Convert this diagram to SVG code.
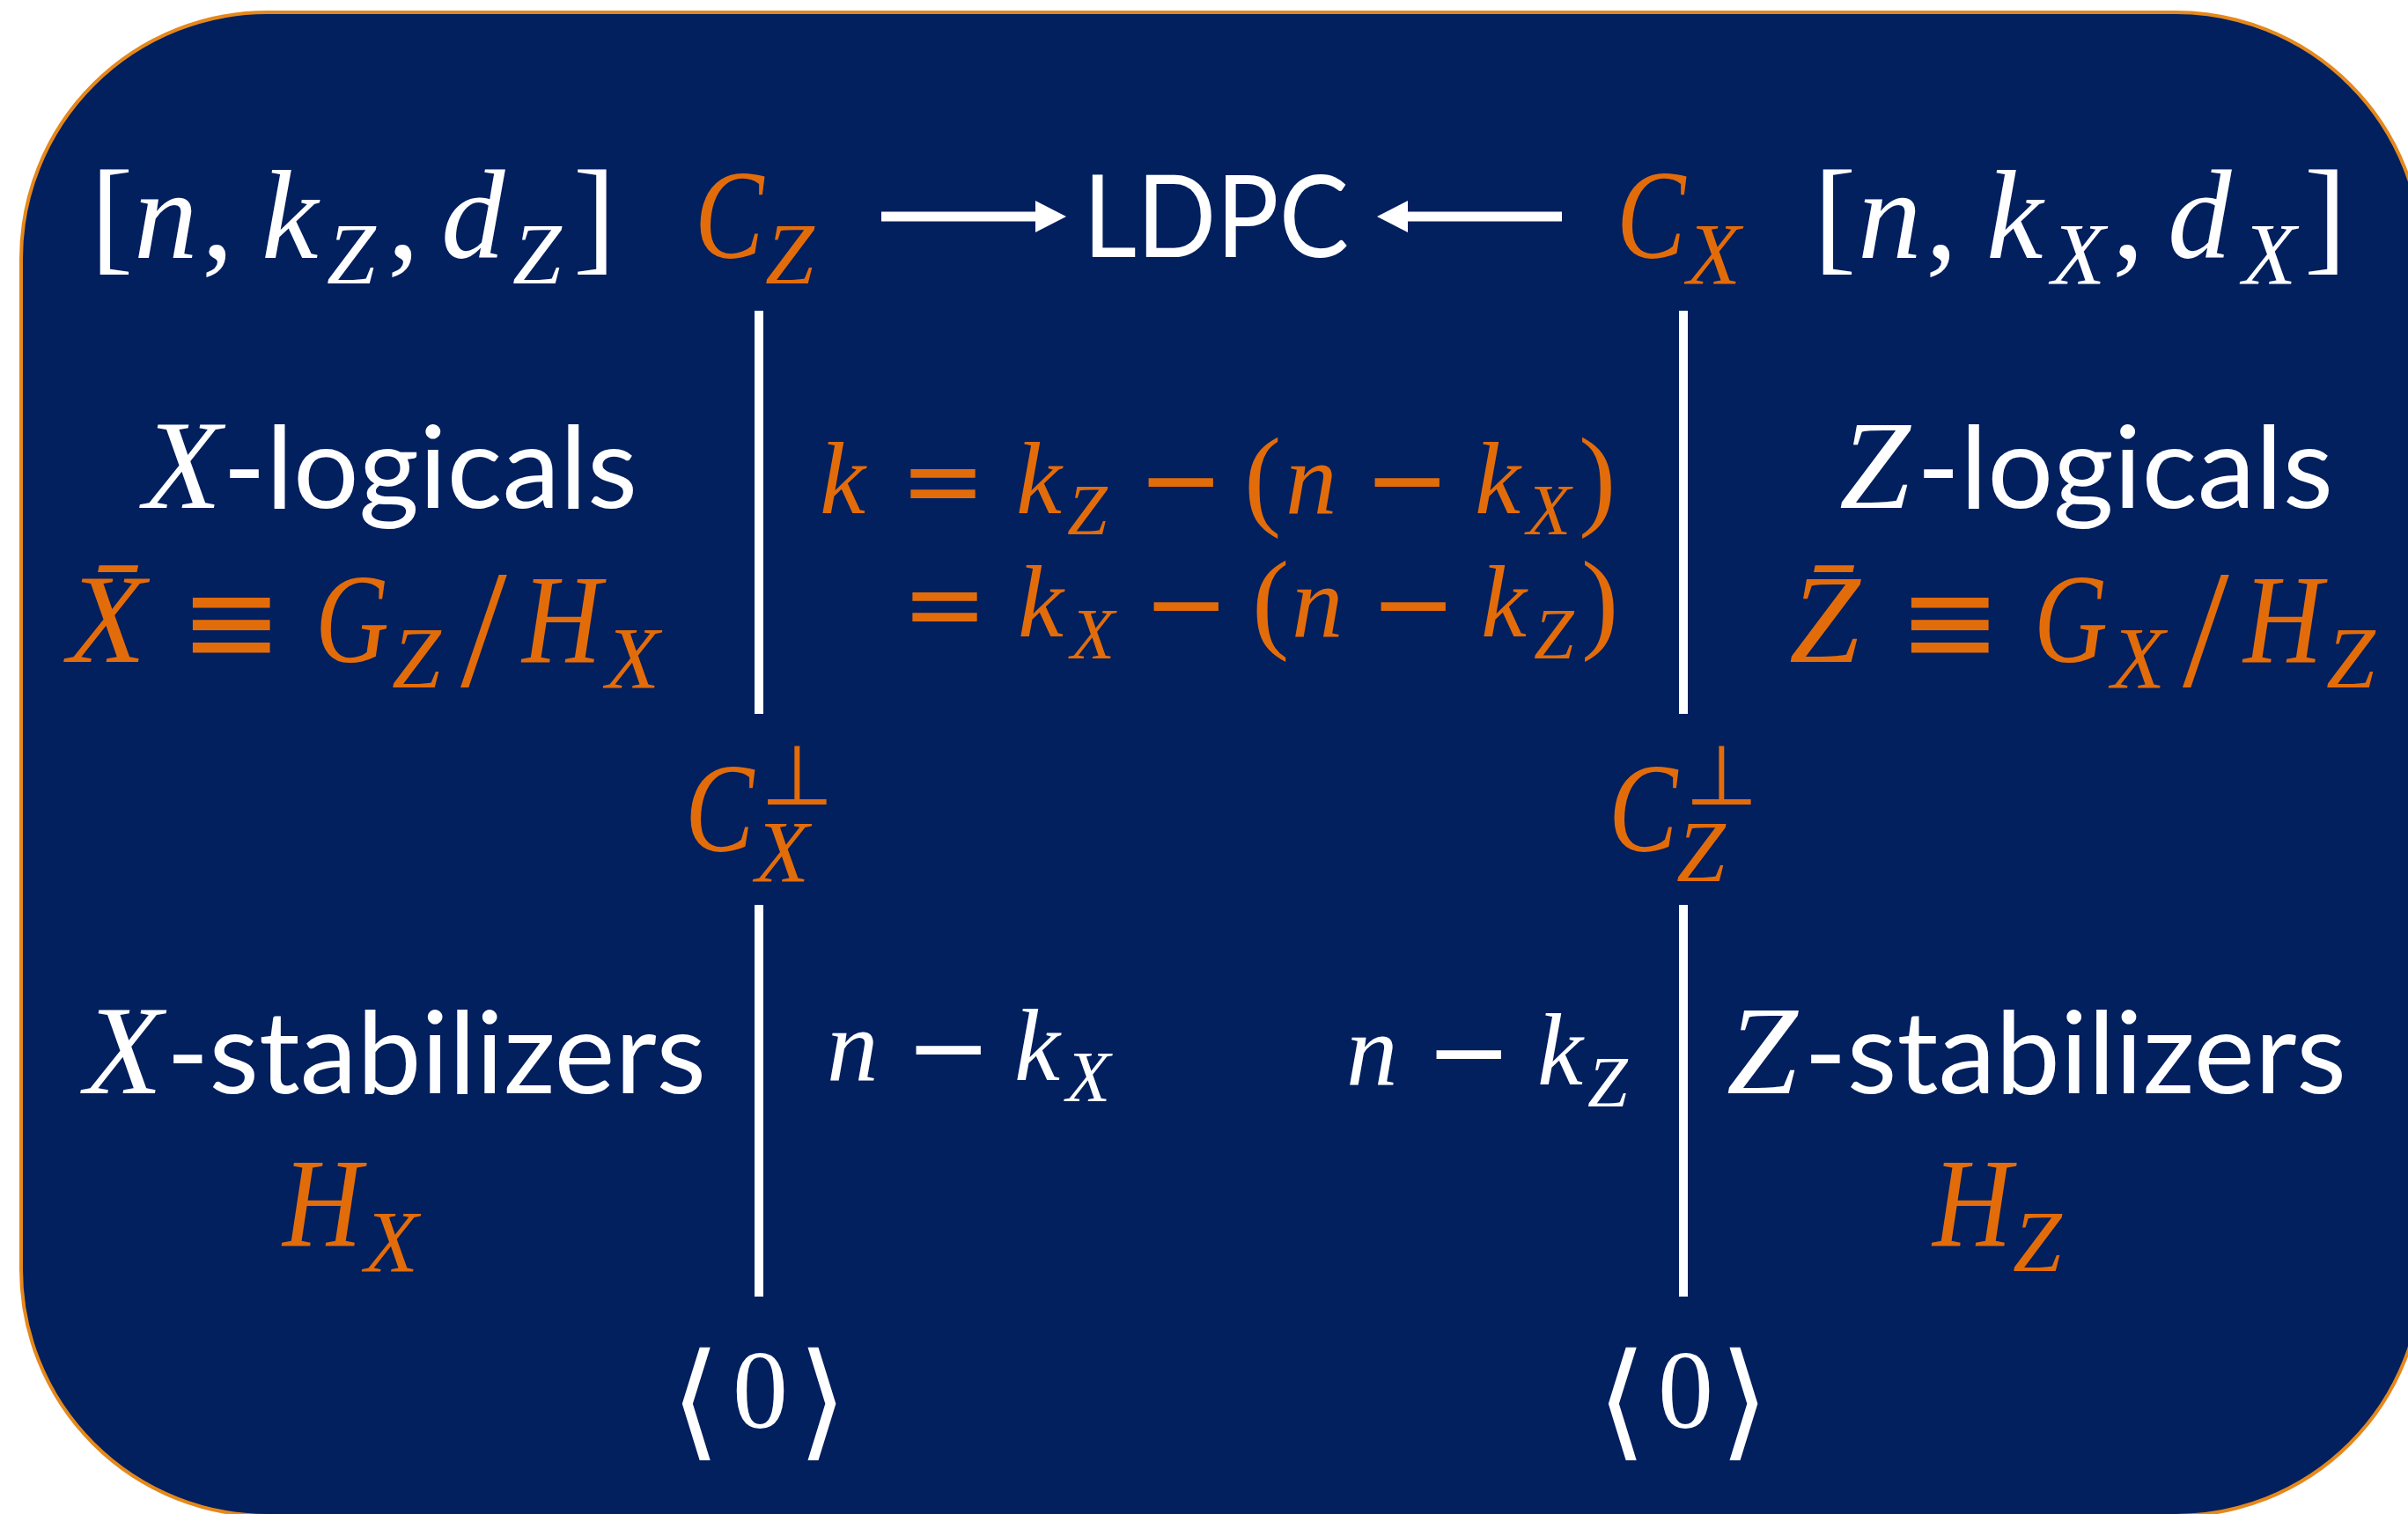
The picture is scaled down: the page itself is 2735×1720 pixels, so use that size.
<svg xmlns="http://www.w3.org/2000/svg" width="2735" height="1720" viewBox="0 0 2735 1720">
<defs>
<style>
.m{font-family:"Liberation Serif","DejaVu Serif",serif;font-style:italic}
.u{font-family:"Liberation Serif","DejaVu Serif",serif;font-style:normal}
.sym{font-family:"DejaVu Sans","DejaVu Serif",sans-serif;font-style:normal}
.s{font-family:Lato,"Liberation Sans",sans-serif;font-size:130px}
.w{fill:#ffffff}
.o{fill:#E36C0A}
.M{font-size:145px}
.S{font-size:100px}
.m2{font-size:117px}
.s2{font-size:82px}
.P{font-size:127px}
.ln{stroke:#ffffff;stroke-width:10;fill:none}
.ar{stroke:#ffffff;stroke-width:11;fill:none}
</style>
<marker id="ah" markerUnits="userSpaceOnUse" markerWidth="36" markerHeight="36" viewBox="0 0 36 36" refX="0" refY="18" orient="auto">
<path d="M0,0 L35,18 L0,36 z" fill="#ffffff"/>
</marker>
</defs>
<rect id="frame" x="24" y="14" width="2727" height="1708" rx="280" ry="280" fill="#021F5E" stroke="#E5881B" stroke-width="4"/>

<g id="connectors">
<line class="ln" x1="862" y1="353" x2="862" y2="811"/>
<line class="ln" x1="862" y1="1028" x2="862" y2="1473"/>
<line class="ln" x1="1912" y1="353" x2="1912" y2="811"/>
<line class="ln" x1="1912" y1="1028" x2="1912" y2="1473"/>
<line class="ar" x1="1001" y1="246" x2="1176" y2="246" marker-end="url(#ah)"/>
<line class="ar" x1="1774" y1="246" x2="1599" y2="246" marker-end="url(#ah)"/>
</g>

<g id="params-z">
<text class="w"><tspan class="u M" x="103" y="293">[</tspan><tspan class="m M" x="152">n</tspan><tspan class="u M" x="229">,</tspan><tspan class="m M" x="297">k</tspan><tspan class="m S" x="371" y="322">Z</tspan><tspan class="u M" x="440" y="293">,</tspan><tspan class="m M" x="501">d</tspan><tspan class="m S" x="582" y="322">Z</tspan><tspan class="u M" x="651" y="293">]</tspan></text>
</g>

<g id="node-cz">
<text class="m M o" transform="translate(789 293) scale(0.81 1)">C</text>
<text class="m S o" x="869" y="322">Z</text>
</g>

<g id="node-ldpc">
<text class="s w" x="1230" y="292" textLength="302" lengthAdjust="spacingAndGlyphs">LDPC</text>
</g>

<g id="node-cx">
<text class="m M o" transform="translate(1836 293) scale(0.81 1)">C</text>
<text class="m S o" x="1916" y="322">X</text>
</g>

<g id="params-x">
<text class="w"><tspan class="u M" x="2060" y="293">[</tspan><tspan class="m M" x="2110">n</tspan><tspan class="u M" x="2187">,</tspan><tspan class="m M" x="2256">k</tspan><tspan class="m S" x="2330" y="322">X</tspan><tspan class="u M" x="2399" y="293">,</tspan><tspan class="m M" x="2462">d</tspan><tspan class="m S" x="2547" y="322">X</tspan><tspan class="u M" x="2617" y="293">]</tspan></text>
</g>

<g id="label-x-logicals">
<text class="m M w" x="163" y="577">X</text>
<text class="s w" x="253" y="577" textLength="471" lengthAdjust="spacingAndGlyphs">-logicals</text>
<text class="m M o" x="77" y="752">X̄</text>
<text class="sym o" font-size="140" x="204" y="754">≡</text>
<text class="m M o" transform="translate(358 752) scale(0.8 1)">G</text>
<text class="m S o" x="445" y="781">Z</text>
<text class="u o" font-size="190" x="523" y="779">/</text>
<text class="m M o" transform="translate(593 752) scale(0.86 1)">H</text>
<text class="m S o" x="688" y="781">X</text>
</g>

<g id="label-k">
<text class="o"><tspan class="m m2" x="931" y="583">k</tspan><tspan class="sym m2" x="1022" y="586">=</tspan><tspan class="m m2" x="1154" y="583">k</tspan><tspan class="m s2" x="1212" y="607">Z</tspan><tspan class="sym m2" x="1292" y="585">−</tspan><tspan class="u P" x="1413" y="585">(</tspan><tspan class="m m2" x="1460" y="583">n</tspan><tspan class="sym m2" x="1549" y="585">−</tspan><tspan class="m m2" x="1675" y="583">k</tspan><tspan class="m s2" x="1734" y="607">X</tspan><tspan class="u P" x="1793" y="585">)</tspan></text>
<text class="o"><tspan class="sym m2" x="1024" y="726">=</tspan><tspan class="m m2" x="1156" y="723">k</tspan><tspan class="m s2" x="1216" y="748">X</tspan><tspan class="sym m2" x="1298" y="726">−</tspan><tspan class="u P" x="1422" y="725">(</tspan><tspan class="m m2" x="1467" y="723">n</tspan><tspan class="sym m2" x="1556" y="726">−</tspan><tspan class="m m2" x="1682" y="723">k</tspan><tspan class="m s2" x="1742" y="748">Z</tspan><tspan class="u P" x="1796" y="725">)</tspan></text>
</g>

<g id="label-z-logicals">
<text class="m M w" x="2089" y="577">Z</text>
<text class="s w" x="2177" y="577" textLength="473" lengthAdjust="spacingAndGlyphs">-logicals</text>
<text class="m M o" x="2032" y="752">Z̄</text>
<text class="sym o" font-size="140" x="2156" y="754">≡</text>
<text class="m M o" transform="translate(2310 752) scale(0.8 1)">G</text>
<text class="m S o" x="2398" y="781">X</text>
<text class="u o" font-size="190" x="2479" y="779">/</text>
<text class="m M o" transform="translate(2548 752) scale(0.86 1)">H</text>
<text class="m S o" x="2642" y="781">Z</text>
</g>

<g id="node-cx-perp">
<text class="m M o" transform="translate(778 967) scale(0.81 1)">C</text>
<text class="m S o" x="858" y="1001">X</text>
<text class="sym o" font-size="95" x="864" y="914">⊥</text>
</g>

<g id="node-cz-perp">
<text class="m M o" transform="translate(1827 967) scale(0.81 1)">C</text>
<text class="m S o" x="1904" y="1001">Z</text>
<text class="sym o" font-size="95" x="1914" y="914">⊥</text>
</g>

<g id="label-x-stabilizers">
<text class="m M w" x="96" y="1242">X</text>
<text class="s w" x="189" y="1242" textLength="613" lengthAdjust="spacingAndGlyphs">-stabilizers</text>
<text class="m M o" transform="translate(321 1415) scale(0.86 1)">H</text>
<text class="m S o" x="414" y="1444">X</text>
</g>

<g id="label-nkx">
<text class="w"><tspan class="m m2" x="939" y="1227">n</tspan><tspan class="sym m2" x="1028" y="1230">−</tspan><tspan class="m m2" x="1152" y="1227">k</tspan><tspan class="m s2" x="1211" y="1251">X</tspan></text>
</g>

<g id="label-nkz">
<text class="w"><tspan class="m m2" x="1529" y="1232">n</tspan><tspan class="sym m2" x="1619" y="1235">−</tspan><tspan class="m m2" x="1746" y="1232">k</tspan><tspan class="m s2" x="1803" y="1257">Z</tspan></text>
</g>

<g id="label-z-stabilizers">
<text class="m M w" x="1961" y="1242">Z</text>
<text class="s w" x="2049" y="1242" textLength="616" lengthAdjust="spacingAndGlyphs">-stabilizers</text>
<text class="m M o" transform="translate(2195 1415) scale(0.86 1)">H</text>
<text class="m S o" x="2286" y="1444">Z</text>
</g>

<g id="node-zero-left">
<text class="w"><tspan class="sym" font-size="144" x="762" y="1640">⟨</tspan><tspan class="u" font-size="126" x="832" y="1622">0</tspan><tspan class="sym" font-size="144" x="906" y="1640">⟩</tspan></text>
</g>

<g id="node-zero-right">
<text class="w"><tspan class="sym" font-size="144" x="1814" y="1640">⟨</tspan><tspan class="u" font-size="126" x="1883" y="1622">0</tspan><tspan class="sym" font-size="144" x="1953" y="1640">⟩</tspan></text>
</g>
</svg>
